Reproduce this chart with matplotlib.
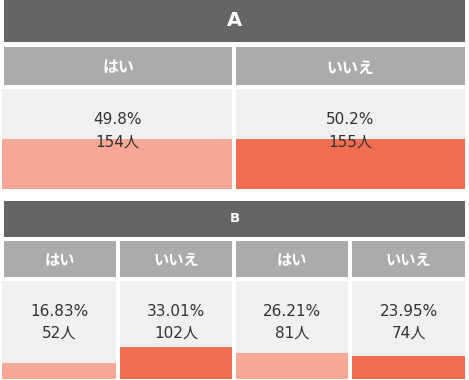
import matplotlib
matplotlib.use("Agg")
import matplotlib.pyplot as plt

plt.rcParams['font.family'] = ['DejaVu Sans', 'Noto Sans CJK JP']

# Data
section_titles = ["A", "B"]
a_labels = ["はい", "いいえ"]
a_pcts = [49.8, 50.2]
a_counts = [154, 155]
b_labels = ["はい", "いいえ", "はい", "いいえ"]
b_pcts = [16.83, 33.01, 26.21, 23.95]
b_counts = [52, 102, 81, 74]

W, H = 469, 380
DARK = "#656565"
MID = "#ABABAB"
BG = "#F0F0F0"
YES = "#F7A795"
NO = "#F06D4F"
TXT = "#333333"

fig = plt.figure(figsize=(W / 100, H / 100), dpi=100)
fig.patch.set_facecolor("white")


def box(x, y, w, h):
    ax = fig.add_axes([x / W, 1 - (y + h) / H, w / W, h / H])
    ax.set_xticks([])
    ax.set_yticks([])
    for s in ax.spines.values():
        s.set_visible(False)
    return ax


def header(x, y, w, h, color, text, size, ty=0.5):
    ax = box(x, y, w, h)
    ax.set_facecolor(color)
    ax.text(0.5, ty, text, ha="center", va="center", color="white",
            fontsize=size, fontweight="bold", transform=ax.transAxes,
            family=['DejaVu Sans', 'Noto Sans CJK JP'])


def cell(x, y, w, h, pct, count, color, dec):
    ax = box(x, y, w, h)
    ax.set_facecolor(BG)
    ax.bar([0], [pct], width=1.0, color=color, align="center")
    ax.set_xlim(-0.5, 0.5)
    ax.set_ylim(0, 100)
    ax.text(0.5, 0.69, f"{pct:.{dec}f}%", ha="center", va="center",
            color=TXT, fontsize=11, transform=ax.transAxes)
    ax.text(0.5, 0.47, f"{count}人", ha="center", va="center",
            color=TXT, fontsize=11, transform=ax.transAxes)


# Section A
header(4, 0, 461, 42, DARK, section_titles[0], 14)
a_cols = [(4, 228), (236, 229)]
for i, ((x, w), lab, p, c, col) in enumerate(zip(a_cols, a_labels, a_pcts, a_counts, [YES, NO])):
    header(x, 47, w, 38, MID, lab, 11.5, 0.45)
    cell(x - 2 if i == 0 else x, 89, w + (2 if i == 0 else 0), 100, p, c, col, 1)

# Section B
header(4, 201, 461, 36, DARK, section_titles[1], 9.5)
b_cols = [(4, 112), (120, 112), (236, 112), (352, 113)]
for i, ((x, w), lab, p, c) in enumerate(zip(b_cols, b_labels, b_pcts, b_counts)):
    header(x, 241, w, 36, MID, lab, 11, 0.45)
    cell(x - 2 if i == 0 else x, 281, w + (2 if i == 0 else 0), 98, p, c,
         YES if i % 2 == 0 else NO, 2)

fig.savefig("out.png", dpi=100, facecolor="white")
